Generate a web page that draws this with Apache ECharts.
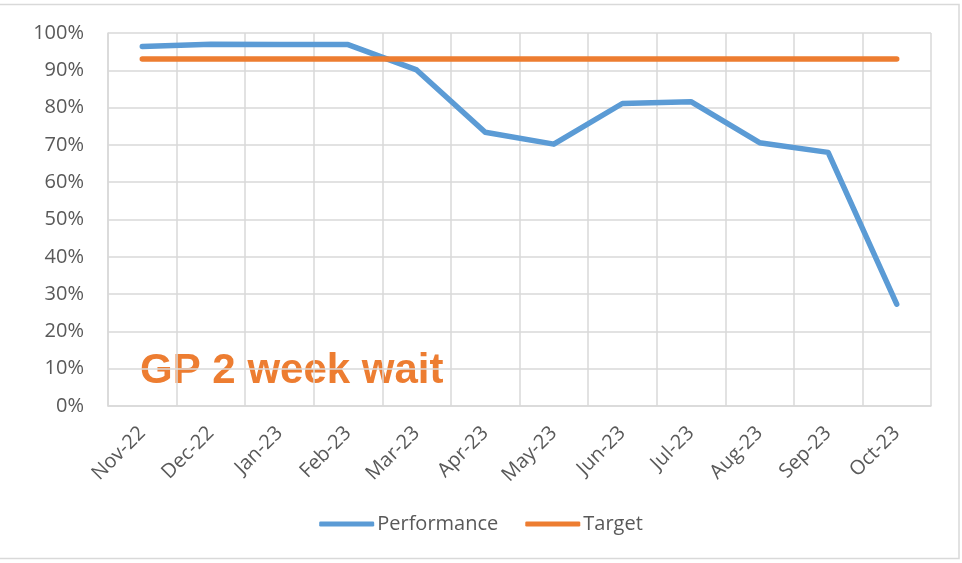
<!DOCTYPE html>
<html>
<head>
<meta charset="utf-8">
<script src="https://cdn.jsdelivr.net/npm/echarts@6/dist/echarts.min.js"></script>
<style>
  html, body { margin: 0; padding: 0; background: #fff; }
  #chart { width: 962px; height: 563px; }
</style>
</head>
<body>
<div id="chart"></div>
<script>
// 月份
const months = ["Nov-22", "Dec-22", "Jan-23", "Feb-23", "Mar-23", "Apr-23", "May-23", "Jun-23", "Jul-23", "Aug-23", "Sep-23", "Oct-23"];
// 实际表现 (%)
const performance = [96.4, 97.0, 96.9, 96.9, 90.1, 73.4, 70.2, 81.1, 81.6, 70.6, 68.0, 27.3];
// 目标 (%)
const target = [93, 93, 93, 93, 93, 93, 93, 93, 93, 93, 93, 93];
const chartTitle = "GP 2 week wait";

const labelFont = "'Open Sans', sans-serif";
const gridColor = "#d9d9d9";

const chart = echarts.init(document.getElementById("chart"));

const option = {
  animation: false,
  grid: {
    left: 108,
    right: 31,
    top: 33,
    bottom: 157
  },
  legend: {
    data: ["Performance", "Target"],
    left: "center",
    top: 509,
    icon: "roundRect",
    itemWidth: 55,
    itemHeight: 5,
    itemGap: 27,
    textStyle: {
      fontFamily: labelFont,
      fontSize: 20,
      color: "#595959",
      padding: [0, 0, 0, -2]
    }
  },
  xAxis: {
    type: "category",
    data: months,
    boundaryGap: true,
    axisLine: { show: true, lineStyle: { color: gridColor, width: 1.5 } },
    axisTick: { show: false },
    splitLine: { show: true, lineStyle: { color: gridColor, width: 1.5 } },
    axisLabel: {
      rotate: 45,
      margin: 24,
      fontFamily: labelFont,
      fontSize: 20,
      color: "#595959",
      interval: 0
    }
  },
  yAxis: {
    type: "value",
    min: 0,
    max: 100,
    interval: 10,
    axisLine: { show: true, lineStyle: { color: gridColor, width: 1.5 } },
    axisTick: { show: false },
    splitLine: { show: true, lineStyle: { color: gridColor, width: 1.5 } },
    axisLabel: {
      margin: 24,
      fontFamily: labelFont,
      fontSize: 20,
      color: "#595959",
      formatter: "{value}%"
    }
  },
  series: [
    {
      name: "Performance",
      type: "line",
      data: performance,
      symbol: "none",
      color: "#5B9BD5",
      lineStyle: { width: 5.5, color: "#5B9BD5", cap: "round", join: "round" }
    },
    {
      name: "Target",
      type: "line",
      data: target,
      symbol: "none",
      color: "#ED7D31",
      lineStyle: { width: 5.5, color: "#ED7D31", cap: "round", join: "round" }
    }
  ],
  graphic: [
    {
      type: "rect",
      silent: true,
      shape: { x: -2, y: 4.5, width: 961, height: 554 },
      style: { fill: null, stroke: gridColor, lineWidth: 1.5 }
    },
    {
      type: "text",
      left: 140,
      top: 350,
      style: {
        text: chartTitle,
        fill: "#ED7D31",
        font: "bold 42px 'Liberation Sans', Arial, sans-serif"
      }
    }
  ]
};

chart.setOption(option);
</script>
</body>
</html>
